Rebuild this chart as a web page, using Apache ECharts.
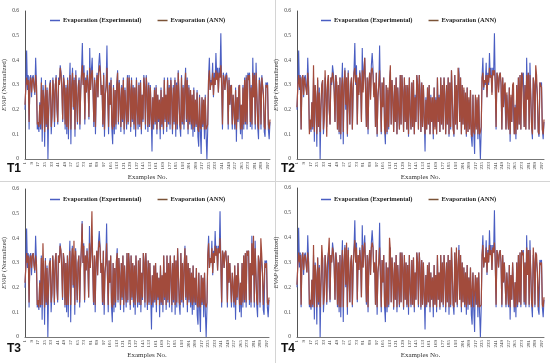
<!DOCTYPE html>
<html><head><meta charset="utf-8">
<script src="https://cdn.jsdelivr.net/npm/echarts@6/dist/echarts.min.js"></script>
<style>html,body{margin:0;padding:0;background:#fff}#c{width:550px;height:363px}</style>
</head><body><div id="c"></div>
<script>
var experimental = [
0.20,0.30,0.44,0.28,0.34,0.12,0.33,0.34,0.25,0.33,0.34,0.30,0.26,0.41,0.31,0.12,0.14,0.11,0.23,0.12,
0.33,0.07,0.30,0.25,0.05,0.32,0.13,0.29,0.00,0.20,0.30,0.32,0.10,0.17,0.33,0.28,0.13,0.30,0.34,0.20,
0.14,0.33,0.30,0.38,0.35,0.29,0.15,0.34,0.31,0.12,0.30,0.10,0.33,0.08,0.29,0.39,0.06,0.30,0.37,0.20,
0.33,0.09,0.36,0.25,0.14,0.30,0.33,0.12,0.28,0.36,0.47,0.30,0.38,0.14,0.33,0.27,0.36,0.30,0.16,0.45,
0.28,0.36,0.41,0.28,0.13,0.33,0.10,0.30,0.35,0.25,0.38,0.43,0.37,0.26,0.30,0.13,0.35,0.09,0.26,0.30,
0.46,0.25,0.10,0.31,0.22,0.33,0.12,0.06,0.30,0.10,0.28,0.12,0.30,0.36,0.14,0.32,0.25,0.11,0.30,0.15,
0.33,0.10,0.29,0.20,0.12,0.34,0.14,0.34,0.28,0.11,0.33,0.15,0.30,0.12,0.29,0.09,0.33,0.20,0.12,0.31,
0.13,0.32,0.10,0.26,0.15,0.34,0.30,0.12,0.34,0.28,0.11,0.31,0.13,0.30,0.17,0.03,0.25,0.12,0.29,0.14,
0.30,0.10,0.26,0.15,0.24,0.08,0.29,0.13,0.25,0.10,0.33,0.15,0.26,0.11,0.33,0.14,0.30,0.12,0.33,0.25,
0.10,0.30,0.14,0.33,0.09,0.31,0.12,0.36,0.25,0.13,0.09,0.34,0.14,0.30,0.12,0.28,0.37,0.15,0.33,0.10,
0.30,0.14,0.28,0.12,0.26,0.09,0.29,0.11,0.24,0.13,0.28,0.09,0.05,0.26,0.11,0.02,0.25,0.13,0.24,0.08,
0.26,0.10,0.00,0.12,0.33,0.41,0.28,0.32,0.30,0.39,0.25,0.35,0.30,0.43,0.33,0.37,0.27,0.37,0.34,0.51,
0.30,0.12,0.35,0.33,0.28,0.34,0.35,0.30,0.12,0.33,0.22,0.30,0.30,0.12,0.26,0.20,0.12,0.29,0.07,0.25,
0.15,0.30,0.30,0.10,0.22,0.08,0.30,0.12,0.33,0.14,0.34,0.12,0.35,0.33,0.35,0.13,0.30,0.12,0.41,0.25,
0.35,0.12,0.39,0.26,0.13,0.08,0.33,0.30,0.12,0.34,0.34,0.26,0.11,0.09,0.31,0.30,0.31,0.12,0.08,0.15];

var annT1 = [
0.22,0.29,0.33,0.30,0.32,0.15,0.31,0.33,0.27,0.32,0.33,0.29,0.27,0.34,0.30,0.14,0.15,0.13,0.22,0.14,
0.31,0.12,0.28,0.24,0.11,0.30,0.14,0.28,0.12,0.21,0.29,0.31,0.13,0.18,0.32,0.27,0.15,0.30,0.33,0.21,
0.15,0.32,0.30,0.37,0.34,0.28,0.16,0.33,0.30,0.14,0.29,0.13,0.32,0.12,0.28,0.34,0.12,0.29,0.35,0.21,
0.32,0.12,0.34,0.25,0.15,0.29,0.32,0.14,0.28,0.34,0.38,0.30,0.35,0.16,0.32,0.27,0.34,0.30,0.17,0.37,
0.28,0.34,0.36,0.28,0.15,0.32,0.13,0.30,0.34,0.25,0.35,0.38,0.35,0.26,0.30,0.14,0.34,0.12,0.26,0.29,
0.37,0.25,0.13,0.30,0.22,0.32,0.14,0.12,0.29,0.13,0.28,0.14,0.30,0.35,0.15,0.31,0.25,0.13,0.29,0.16,
0.32,0.12,0.28,0.21,0.14,0.33,0.15,0.33,0.28,0.13,0.32,0.16,0.29,0.14,0.29,0.12,0.32,0.20,0.14,0.30,
0.14,0.31,0.12,0.26,0.16,0.33,0.29,0.14,0.33,0.27,0.13,0.30,0.14,0.29,0.18,0.12,0.25,0.14,0.28,0.15,
0.29,0.12,0.26,0.16,0.24,0.12,0.28,0.14,0.25,0.12,0.32,0.16,0.26,0.13,0.32,0.15,0.29,0.14,0.32,0.25,
0.12,0.29,0.15,0.32,0.12,0.30,0.14,0.35,0.25,0.14,0.12,0.33,0.15,0.29,0.14,0.28,0.35,0.16,0.32,0.12,
0.29,0.15,0.28,0.14,0.26,0.12,0.28,0.13,0.24,0.14,0.27,0.12,0.11,0.25,0.13,0.12,0.25,0.14,0.24,0.12,
0.25,0.12,0.12,0.14,0.32,0.36,0.28,0.31,0.30,0.35,0.26,0.33,0.30,0.36,0.32,0.35,0.27,0.35,0.33,0.38,
0.30,0.14,0.34,0.32,0.28,0.33,0.34,0.30,0.14,0.32,0.22,0.29,0.30,0.14,0.26,0.20,0.14,0.28,0.12,0.25,
0.16,0.29,0.30,0.12,0.22,0.12,0.29,0.14,0.32,0.15,0.33,0.14,0.34,0.32,0.34,0.15,0.29,0.14,0.35,0.25,
0.34,0.14,0.35,0.26,0.15,0.12,0.32,0.29,0.14,0.33,0.33,0.26,0.13,0.12,0.30,0.29,0.30,0.14,0.12,0.16];

var annT2 = [
0.21,0.30,0.34,0.29,0.33,0.12,0.32,0.34,0.26,0.33,0.33,0.28,0.26,0.35,0.29,0.10,0.16,0.12,0.23,0.13,
0.38,0.11,0.30,0.23,0.10,0.33,0.13,0.27,0.11,0.22,0.30,0.32,0.12,0.17,0.36,0.26,0.09,0.31,0.34,0.20,
0.14,0.33,0.31,0.35,0.33,0.27,0.15,0.34,0.31,0.12,0.30,0.11,0.33,0.10,0.29,0.33,0.11,0.30,0.36,0.22,
0.33,0.10,0.35,0.24,0.14,0.30,0.33,0.12,0.29,0.35,0.37,0.31,0.34,0.14,0.33,0.26,0.35,0.31,0.15,0.36,
0.27,0.35,0.41,0.27,0.13,0.33,0.12,0.31,0.35,0.24,0.36,0.37,0.34,0.25,0.31,0.13,0.35,0.10,0.25,0.30,
0.36,0.24,0.11,0.31,0.21,0.33,0.13,0.10,0.30,0.11,0.29,0.13,0.31,0.38,0.14,0.32,0.24,0.11,0.30,0.15,
0.33,0.10,0.29,0.20,0.12,0.34,0.14,0.34,0.27,0.11,0.33,0.15,0.30,0.12,0.30,0.10,0.33,0.19,0.12,0.31,
0.13,0.32,0.10,0.25,0.15,0.34,0.30,0.12,0.34,0.26,0.11,0.31,0.13,0.30,0.17,0.10,0.24,0.12,0.29,0.14,
0.30,0.10,0.25,0.15,0.25,0.10,0.29,0.12,0.24,0.10,0.33,0.15,0.25,0.11,0.33,0.14,0.30,0.12,0.33,0.24,
0.10,0.30,0.14,0.33,0.10,0.31,0.13,0.36,0.24,0.12,0.10,0.34,0.14,0.30,0.12,0.37,0.34,0.15,0.33,0.10,
0.30,0.14,0.29,0.12,0.27,0.10,0.29,0.11,0.25,0.12,0.28,0.10,0.09,0.26,0.11,0.10,0.26,0.12,0.25,0.10,
0.26,0.10,0.11,0.13,0.33,0.35,0.29,0.32,0.31,0.34,0.25,0.34,0.31,0.37,0.33,0.34,0.26,0.36,0.34,0.36,
0.31,0.13,0.35,0.33,0.27,0.34,0.35,0.31,0.12,0.33,0.21,0.30,0.31,0.12,0.27,0.19,0.12,0.29,0.10,0.26,
0.15,0.30,0.31,0.10,0.21,0.10,0.30,0.12,0.33,0.14,0.34,0.12,0.35,0.33,0.33,0.13,0.30,0.12,0.34,0.24,
0.35,0.12,0.34,0.25,0.13,0.10,0.33,0.30,0.12,0.38,0.34,0.25,0.11,0.10,0.31,0.30,0.29,0.12,0.10,0.16];

var annT3 = [
0.22,0.28,0.34,0.30,0.33,0.14,0.32,0.33,0.28,0.33,0.34,0.29,0.27,0.33,0.30,0.13,0.15,0.12,0.22,0.13,
0.32,0.13,0.38,0.24,0.12,0.31,0.14,0.28,0.13,0.21,0.30,0.31,0.14,0.18,0.33,0.27,0.14,0.31,0.34,0.21,
0.15,0.33,0.30,0.37,0.35,0.28,0.16,0.34,0.30,0.13,0.30,0.13,0.33,0.13,0.28,0.35,0.13,0.30,0.36,0.21,
0.39,0.13,0.35,0.25,0.15,0.30,0.33,0.14,0.28,0.35,0.46,0.30,0.37,0.15,0.33,0.27,0.35,0.30,0.16,0.38,
0.28,0.35,0.51,0.28,0.14,0.33,0.13,0.30,0.35,0.25,0.36,0.39,0.36,0.26,0.30,0.14,0.35,0.13,0.26,0.30,
0.38,0.25,0.13,0.31,0.22,0.33,0.14,0.12,0.30,0.13,0.28,0.14,0.31,0.34,0.15,0.32,0.25,0.13,0.30,0.16,
0.33,0.13,0.29,0.21,0.14,0.34,0.15,0.34,0.28,0.13,0.33,0.16,0.30,0.14,0.29,0.13,0.33,0.20,0.14,0.31,
0.14,0.32,0.13,0.26,0.16,0.34,0.30,0.14,0.34,0.27,0.13,0.31,0.14,0.30,0.18,0.13,0.25,0.14,0.29,0.15,
0.30,0.13,0.26,0.16,0.24,0.13,0.29,0.14,0.25,0.13,0.33,0.16,0.26,0.13,0.33,0.15,0.30,0.14,0.33,0.25,
0.13,0.30,0.15,0.33,0.13,0.31,0.14,0.36,0.25,0.14,0.13,0.34,0.15,0.30,0.14,0.28,0.36,0.16,0.33,0.13,
0.30,0.15,0.28,0.14,0.26,0.13,0.29,0.14,0.24,0.14,0.28,0.13,0.12,0.26,0.13,0.12,0.25,0.14,0.24,0.13,
0.26,0.13,0.12,0.14,0.33,0.38,0.28,0.32,0.30,0.36,0.26,0.34,0.30,0.37,0.33,0.36,0.27,0.36,0.34,0.40,
0.30,0.14,0.35,0.33,0.28,0.34,0.35,0.30,0.14,0.33,0.22,0.30,0.30,0.14,0.26,0.20,0.14,0.29,0.13,0.25,
0.16,0.30,0.30,0.13,0.22,0.13,0.30,0.14,0.33,0.15,0.34,0.14,0.35,0.33,0.35,0.15,0.30,0.14,0.38,0.25,
0.41,0.14,0.36,0.26,0.15,0.13,0.33,0.30,0.14,0.40,0.34,0.26,0.13,0.13,0.30,0.28,0.30,0.14,0.13,0.16];

var annT4 = [
0.21,0.29,0.34,0.30,0.33,0.13,0.31,0.34,0.27,0.32,0.33,0.29,0.26,0.34,0.30,0.13,0.15,0.12,0.23,0.13,
0.37,0.12,0.29,0.24,0.12,0.32,0.14,0.28,0.12,0.22,0.37,0.31,0.13,0.17,0.33,0.27,0.14,0.30,0.34,0.40,
0.15,0.33,0.30,0.36,0.34,0.28,0.15,0.34,0.30,0.13,0.30,0.12,0.33,0.12,0.28,0.35,0.12,0.30,0.36,0.21,
0.38,0.12,0.35,0.25,0.14,0.30,0.33,0.13,0.28,0.35,0.39,0.30,0.36,0.15,0.33,0.27,0.35,0.30,0.16,0.37,
0.28,0.35,0.38,0.28,0.14,0.33,0.12,0.30,0.35,0.25,0.36,0.38,0.36,0.26,0.30,0.13,0.35,0.12,0.26,0.30,
0.36,0.25,0.12,0.31,0.22,0.33,0.13,0.12,0.30,0.12,0.28,0.13,0.40,0.35,0.14,0.32,0.25,0.12,0.30,0.15,
0.33,0.12,0.29,0.21,0.13,0.34,0.14,0.34,0.28,0.12,0.33,0.15,0.30,0.13,0.29,0.12,0.33,0.20,0.13,0.31,
0.13,0.32,0.12,0.26,0.15,0.34,0.30,0.13,0.34,0.27,0.12,0.31,0.13,0.30,0.17,0.12,0.25,0.13,0.29,0.14,
0.30,0.12,0.26,0.15,0.24,0.12,0.29,0.13,0.25,0.12,0.33,0.15,0.26,0.12,0.33,0.14,0.30,0.13,0.33,0.25,
0.12,0.30,0.14,0.33,0.12,0.31,0.13,0.36,0.25,0.13,0.12,0.34,0.14,0.36,0.13,0.28,0.35,0.15,0.33,0.12,
0.30,0.14,0.28,0.13,0.26,0.12,0.29,0.13,0.24,0.13,0.28,0.12,0.12,0.26,0.12,0.12,0.25,0.13,0.24,0.12,
0.26,0.12,0.12,0.13,0.33,0.37,0.28,0.32,0.30,0.36,0.26,0.34,0.30,0.37,0.33,0.35,0.27,0.36,0.34,0.38,
0.30,0.13,0.35,0.33,0.28,0.34,0.35,0.30,0.13,0.33,0.22,0.30,0.30,0.13,0.26,0.20,0.13,0.29,0.12,0.25,
0.15,0.30,0.30,0.12,0.22,0.12,0.30,0.13,0.33,0.14,0.34,0.13,0.35,0.33,0.34,0.14,0.30,0.13,0.36,0.25,
0.35,0.13,0.35,0.26,0.14,0.12,0.36,0.30,0.13,0.34,0.33,0.26,0.12,0.12,0.30,0.29,0.30,0.13,0.12,0.16];

var categories = [];
for (var i = 1; i <= experimental.length; i++) categories.push(String(i));
var panelLabels = ['T1','T2','T3','T4'];
var annSeries = [annT1, annT2, annT3, annT4];
var seriesNames = ['Evaporation (Experimental)', 'Evaporation (ANN)'];

var grids = [
  {left:25, top:11, width:245, height:148},
  {left:297, top:11, width:247, height:148},
  {left:25, top:189, width:244, height:148},
  {left:297, top:188, width:247, height:149}
];
var legendPos = [{left:45, top:12},{left:316, top:12},{left:45, top:191},{left:316, top:191}];
var tPos = [{x:7,y:163},{x:281,y:163},{x:7,y:343},{x:281,y:343}];
var serif = '"Liberation Serif","Times New Roman",serif';
var blue = '#4a5ec2', brown = '#a24b3c';

var option = {
  animation:false,
  backgroundColor:'#fff',
  grid: grids,
  legend: legendPos.map(function(p){ return {
    left:p.left, top:p.top, data:seriesNames, icon:'rect', itemWidth:10, itemHeight:1.5,
    itemGap:16, textStyle:{fontFamily:serif, fontWeight:'bold', fontSize:6.5, color:'#222', padding:[0,0,0,-2]}
  };}),
  xAxis: grids.map(function(g, k){ return {
    type:'category', gridIndex:k, data:categories, boundaryGap:false,
    axisLine:{lineStyle:{color:'#777', width:1}}, axisTick:{show:false},
    axisLabel:{interval:7, rotate:90, fontSize:5, fontFamily:serif, color:'#333', margin:3},
    name:'Examples No.', nameLocation:'middle', nameGap:15,
    nameTextStyle:{fontFamily:serif, fontSize:7, color:'#333'}
  };}),
  yAxis: grids.map(function(g, k){ return {
    type:'value', gridIndex:k, min:0, max:0.6, interval:0.1,
    axisLine:{show:true, lineStyle:{color:'#555', width:1}}, axisTick:{show:false},
    splitLine:{show:false},
    axisLabel:{fontSize:5.5, fontFamily:serif, color:'#444', margin:6,
      formatter:function(v){ return v===0 ? '0' : v.toFixed(1); }},
    name:'{i|EVAP} {n|(Normalized)}', nameLocation:'middle', nameGap:14, nameRotate:90,
    nameTextStyle:{fontFamily:serif, fontSize:6.5, color:'#333',
      rich:{i:{fontStyle:'italic', fontFamily:serif, fontSize:6.5, color:'#333'},
            n:{fontFamily:serif, fontSize:6.5, color:'#333'}}}
  };}),
  series: [],
  graphic: [
    {type:'line', shape:{x1:275.5,y1:0,x2:275.5,y2:363}, style:{stroke:'#d4d4d4', lineWidth:1}},
    {type:'line', shape:{x1:0,y1:181.5,x2:550,y2:181.5}, style:{stroke:'#d4d4d4', lineWidth:1}}
  ]
};
for (var k = 0; k < 4; k++) {
  option.series.push({name:seriesNames[0], type:'line', xAxisIndex:k, yAxisIndex:k,
    data:experimental, showSymbol:false, symbol:'none', lineStyle:{color:blue, width:1.1}, itemStyle:{color:blue}});
  option.series.push({name:seriesNames[1], type:'line', xAxisIndex:k, yAxisIndex:k,
    data:annSeries[k], showSymbol:false, symbol:'none', lineStyle:{color:brown, width:1.2}, itemStyle:{color:'#7a5236'}});
  option.graphic.push({type:'text', left:tPos[k].x, top:tPos[k].y,
    style:{text:panelLabels[k], font:'bold 12px "Liberation Sans",Arial,sans-serif', fill:'#111'}});
}
var chart = echarts.init(document.getElementById('c'), null, {renderer:'canvas'});
chart.setOption(option);
</script></body></html>
